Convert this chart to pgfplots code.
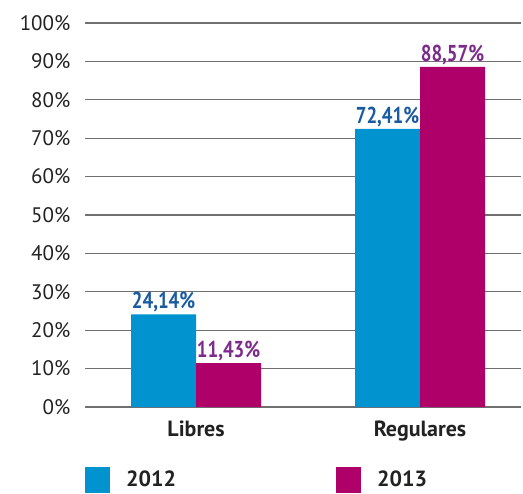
\documentclass[border=0pt]{standalone}
\usepackage{pgfplots}
\pgfplotsset{compat=1.18}
\usepackage{fontspec}
\setmainfont{PT Sans}
\definecolor{cblue}{HTML}{0093CF}
\definecolor{cmag}{HTML}{AF0069}
\definecolor{lblue}{HTML}{1A5AA0}
\definecolor{lpurp}{HTML}{7D2A8C}
\definecolor{gridc}{HTML}{707070}
\definecolor{txt}{HTML}{222222}
\begin{document}
\begin{tikzpicture}
\begin{axis}[
  scale only axis, width=436pt, height=384pt,
  ymin=0, ymax=100, xmin=-0.496, xmax=1.451,
  ybar=0pt, bar width=65pt,
  axis y line=left, axis x line=bottom,
  y axis line style={draw=none},
  x axis line style={gridc, line width=1.6pt, -},
  xtick=data, xticklabels={Libres, Regulares},
  xtick style={draw=none}, ytick style={draw=none},
  xticklabel style={font=\fontsize{22}{24}\selectfont\bfseries, text=txt, yshift=-8pt},
  ytick={0,10,...,100},
  ymajorgrids, grid style={gridc, line width=1.1pt},
  yticklabel={\pgfmathprintnumber{\tick}\%},
  yticklabel style={font=\fontsize{21}{24}\selectfont, text=txt, xshift=-9pt},
  /pgf/number format/assume math mode=true,
  nodes near coords={\scalebox{0.82}[1]{\pgfmathprintnumber[use comma,fixed,precision=2,fixed zerofill]{\pgfplotspointmeta}\%}},
  nodes near coords style={font=\fontsize{23}{24}\selectfont\bfseries, inner sep=1pt, yshift=1pt},
  legend columns=2,
  legend style={draw=none, at={(axis description cs:0,-0.155)}, anchor=north west, inner sep=0pt,
    font=\fontsize{22}{24}\selectfont\bfseries, text=txt,
    /tikz/every even column/.append style={column sep=158pt}},
  legend image code/.code={\fill[#1] (0pt,-13pt) rectangle (25pt,13pt);},
  clip=false,
]
\addplot[fill=cblue, draw=none, every node near coord/.append style={text=lblue}] coordinates {(0,24.14) (1,72.41)};
\addplot[fill=cmag, draw=none, every node near coord/.append style={text=lpurp}] coordinates {(0,11.43) (1,88.57)};
\legend{\hspace{14pt}2012, \hspace{14pt}2013}
\draw[gridc, line width=2pt] (axis cs:-0.496,100) -- (axis cs:1.451,100);
\path (axis description cs:-0.195,-0.224) rectangle (axis description cs:1.0046,1.06);
\end{axis}
\end{tikzpicture}
\end{document}
